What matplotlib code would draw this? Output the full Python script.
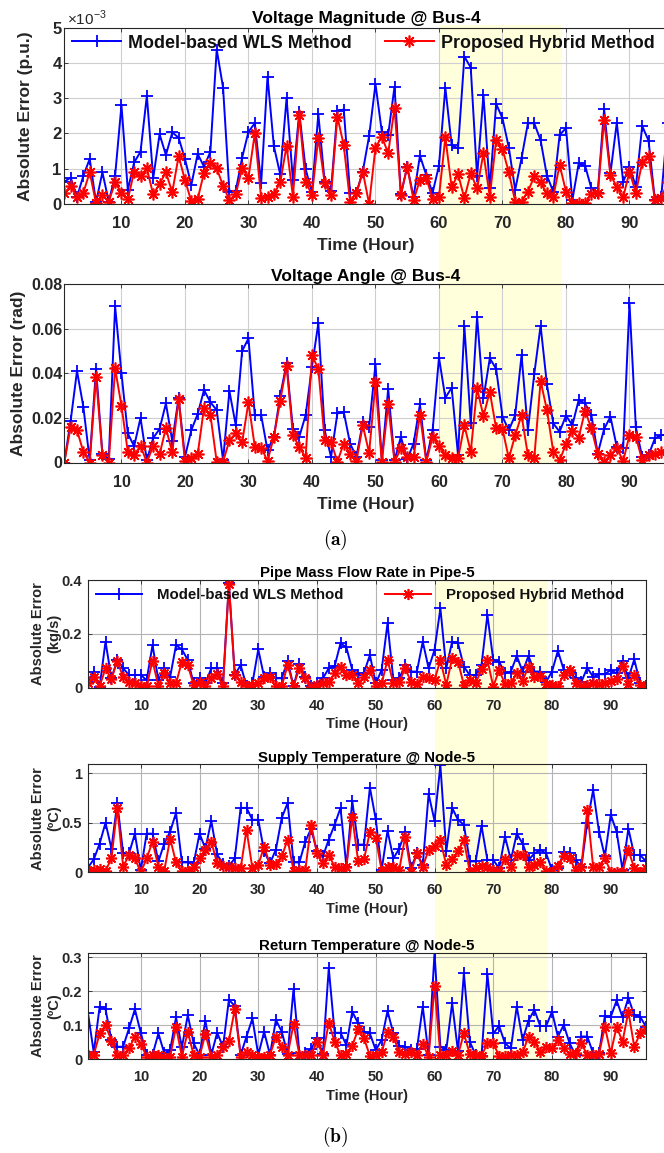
#!/usr/bin/env python3
"""Absolute estimation errors: model-based WLS vs proposed hybrid method.

(a) power network quantities at bus 4, (b) heat network quantities at node/pipe 5.
Hours 60-79 are highlighted in both groups.
"""
import matplotlib
matplotlib.use("Agg")
import matplotlib.pyplot as plt
from matplotlib.patches import Rectangle

HOURS = list(range(1, 97))
XTICKS = [10, 20, 30, 40, 50, 60, 70, 80, 90]
SHADE_HOURS = (60, 79.4)

# (a) voltage magnitude error, units of 1e-3 p.u.
VM_WLS = [0.63, 0.75, 0.20, 0.80, 1.28, 0.05, 0.90, 0.07, 0.80, 2.80,
          0.40, 1.18, 1.48, 3.07, 0.73, 1.98, 1.39, 2.03, 1.88, 1.28,
          0.54, 1.42, 1.06, 1.48, 4.38, 3.30, 0.35, 0.38, 1.31, 2.05,
          2.29, 0.59, 3.61, 1.64, 0.84, 3.00, 0.68, 2.60, 0.99, 0.33,
          2.55, 0.63, 0.38, 2.64, 2.68, 0.32, 0.32, 0.92, 1.93, 3.40,
          2.05, 1.96, 3.33, 0.27, 1.06, 0.20, 1.37, 0.82, 0.32, 1.09,
          3.30, 1.67, 1.58, 4.18, 3.87, 0.78, 3.09, 0.44, 2.84, 2.43,
          1.60, 0.40, 1.30, 2.29, 2.29, 1.81, 0.80, 0.35, 1.96, 2.15,
          0.11, 1.15, 1.09, 0.44, 0.32, 2.69, 0.87, 2.31, 0.63, 1.06,
          0.49, 2.21, 1.80, 0.11, 0.20, 2.29]
VM_HYB = [0.30, 0.52, 0.19, 0.32, 0.90, 0.02, 0.26, 0.07, 0.61, 0.32,
          0.13, 0.92, 0.79, 1.01, 0.27, 0.57, 0.90, 0.33, 1.36, 0.68,
          0.08, 0.14, 0.89, 1.15, 1.01, 0.52, 0.11, 0.28, 1.01, 0.75,
          2.00, 0.16, 0.21, 0.28, 0.61, 1.65, 0.21, 2.52, 0.63, 0.26,
          1.88, 0.60, 0.26, 2.48, 1.67, 0.07, 0.30, 0.92, 0.00, 1.60,
          1.91, 1.44, 2.73, 0.26, 1.06, 0.11, 0.68, 0.75, 0.13, 0.20,
          1.89, 0.47, 0.85, 0.16, 0.87, 0.44, 1.44, 0.21, 1.81, 1.55,
          0.90, 0.07, 0.07, 0.35, 0.78, 0.61, 0.30, 0.21, 1.11, 0.35,
          0.02, 0.02, 0.02, 0.28, 0.30, 2.38, 0.82, 0.49, 0.19, 0.92,
          0.32, 1.18, 1.37, 0.11, 0.16, 0.63]

# (a) voltage angle error, rad
VA_WLS = [0.000, 0.0187, 0.041, 0.025, 0.001, 0.042, 0.004, 0.0015, 0.070, 0.040,
          0.013, 0.0073, 0.020, 0.001, 0.011, 0.015, 0.0265, 0.0096, 0.029, 0.0025,
          0.0145, 0.0217, 0.0325, 0.027, 0.0235, 0.001, 0.032, 0.0167, 0.050, 0.0556,
          0.0212, 0.0212, 0.0055, 0.0115, 0.030, 0.0444, 0.0152, 0.0115, 0.0212, 0.043,
          0.0624, 0.0145, 0.0025, 0.022, 0.0227, 0.0085, 0.0025, 0.018, 0.016, 0.044,
          0.001, 0.033, 0.001, 0.0115, 0.0015, 0.0085, 0.026, 0.001, 0.0145, 0.047,
          0.029, 0.0335, 0.0033, 0.061, 0.0175, 0.0653, 0.0287, 0.0467, 0.042, 0.0205,
          0.0145, 0.0212, 0.048, 0.0145, 0.0396, 0.0613, 0.035, 0.0175, 0.0138, 0.021,
          0.0167, 0.028, 0.0265, 0.0212, 0.004, 0.015, 0.0205, 0.007, 0.0063, 0.0713,
          0.0157, 0.0025, 0.0033, 0.0108, 0.0123, 0.0123]
VA_HYB = [0.000, 0.016, 0.0145, 0.0048, 0.000, 0.0384, 0.0033, 0.000, 0.0422, 0.0254,
          0.0048, 0.0033, 0.0075, 0.000, 0.0075, 0.0036, 0.0155, 0.0045, 0.0283, 0.0006,
          0.002, 0.0036, 0.0245, 0.0215, 0.0003, 0.0003, 0.010, 0.013, 0.009, 0.027,
          0.007, 0.0067, 0.0007, 0.0115, 0.0277, 0.0434, 0.0123, 0.007, 0.0022, 0.048,
          0.042, 0.010, 0.0093, 0.0003, 0.0085, 0.004, 0.0006, 0.0167, 0.0043, 0.0359,
          0.0003, 0.026, 0.0003, 0.0063, 0.0025, 0.0025, 0.0215, 0.0003, 0.0115, 0.0075,
          0.0033, 0.0018, 0.0018, 0.0167, 0.0048, 0.0332, 0.0208, 0.0317, 0.0153, 0.015,
          0.0018, 0.0123, 0.0212, 0.0033, 0.0018, 0.0365, 0.0235, 0.0048, 0.001, 0.0082,
          0.0142, 0.0112, 0.0232, 0.0153, 0.0037, 0.0003, 0.0033, 0.0066, 0.0006, 0.0123,
          0.0115, 0.001, 0.0033, 0.004, 0.0048, 0.0055]

# (b) pipe mass flow rate error, kg/s
MF_WLS = [0.022, 0.060, 0.004, 0.171, 0.035, 0.103, 0.072, 0.047, 0.047, 0.047,
          0.028, 0.158, 0.028, 0.072, 0.040, 0.158, 0.142, 0.103, 0.016, 0.035,
          0.016, 0.072, 0.072, 0.016, 0.388, 0.047, 0.084, 0.006, 0.016, 0.142,
          0.040, 0.053, 0.035, 0.035, 0.100, 0.006, 0.088, 0.040, 0.006, 0.016,
          0.035, 0.072, 0.080, 0.165, 0.150, 0.066, 0.047, 0.056, 0.121, 0.016,
          0.066, 0.239, 0.028, 0.035, 0.084, 0.060, 0.060, 0.171, 0.072, 0.140,
          0.295, 0.072, 0.171, 0.165, 0.078, 0.047, 0.047, 0.084, 0.270, 0.103,
          0.097, 0.053, 0.060, 0.118, 0.060, 0.118, 0.060, 0.060, 0.022, 0.060,
          0.137, 0.066, 0.060, 0.035, 0.022, 0.074, 0.040, 0.050, 0.050, 0.066,
          0.053, 0.100, 0.035, 0.105, 0.016, 0.006]
MF_HYB = [0.016, 0.040, 0.006, 0.072, 0.032, 0.099, 0.040, 0.022, 0.016, 0.007,
          0.006, 0.100, 0.006, 0.053, 0.016, 0.016, 0.097, 0.084, 0.010, 0.022,
          0.006, 0.035, 0.050, 0.006, 0.385, 0.047, 0.022, 0.006, 0.010, 0.016,
          0.035, 0.040, 0.006, 0.006, 0.084, 0.006, 0.072, 0.035, 0.004, 0.010,
          0.016, 0.022, 0.053, 0.078, 0.047, 0.047, 0.016, 0.040, 0.066, 0.006,
          0.016, 0.103, 0.016, 0.022, 0.072, 0.022, 0.014, 0.040, 0.035, 0.028,
          0.103, 0.010, 0.109, 0.097, 0.010, 0.028, 0.016, 0.068, 0.103, 0.004,
          0.066, 0.014, 0.016, 0.053, 0.026, 0.078, 0.038, 0.043, 0.014, 0.010,
          0.006, 0.047, 0.066, 0.019, 0.006, 0.010, 0.016, 0.014, 0.019, 0.026,
          0.031, 0.080, 0.014, 0.047, 0.010, 0.006]

# (b) supply temperature error, degC
TS_WLS = [0.047, 0.13, 0.29, 0.50, 0.24, 0.70, 0.19, 0.19, 0.39, 0.02,
          0.39, 0.39, 0.11, 0.29, 0.41, 0.60, 0.10, 0.10, 0.09, 0.39,
          0.24, 0.52, 0.18, 0.085, 0.064, 0.14, 0.65, 0.65, 0.53, 0.53,
          0.21, 0.09, 0.23, 0.55, 0.70, 0.10, 0.10, 0.31, 0.44, 0.21,
          0.16, 0.33, 0.48, 0.65, 0.057, 0.72, 0.28, 0.28, 0.855, 0.535,
          0.024, 0.42, 0.14, 0.24, 0.41, 0.047, 0.19, 0.074, 0.79, 0.52,
          1.08, 0.21, 0.65, 0.53, 0.48, 0.11, 0.11, 0.47, 0.125, 0.125,
          0.04, 0.36, 0.125, 0.39, 0.29, 0.125, 0.19, 0.226, 0.19, 0.024,
          0.04, 0.20, 0.19, 0.125, 0.057, 0.50, 0.83, 0.41, 0.16, 0.58,
          0.41, 0.024, 0.44, 0.175, 0.175, 0.11]
TS_HYB = [0.017, 0.024, 0.030, 0.013, 0.14, 0.65, 0.057, 0.175, 0.14, 0.0,
          0.14, 0.31, 0.057, 0.017, 0.34, 0.10, 0.013, 0.013, 0.057, 0.14,
          0.23, 0.31, 0.09, 0.064, 0.05, 0.04, 0.04, 0.43, 0.04, 0.074,
          0.26, 0.074, 0.084, 0.16, 0.33, 0.017, 0.024, 0.024, 0.48, 0.19,
          0.09, 0.175, 0.057, 0.04, 0.057, 0.56, 0.11, 0.13, 0.41, 0.35,
          0.017, 0.057, 0.05, 0.024, 0.36, 0.007, 0.19, 0.057, 0.226, 0.266,
          0.326, 0.074, 0.13, 0.21, 0.326, 0.007, 0.04, 0.064, 0.057, 0.024,
          0.013, 0.13, 0.05, 0.175, 0.175, 0.057, 0.074, 0.10, 0.017, 0.007,
          0.064, 0.16, 0.14, 0.024, 0.057, 0.63, 0.057, 0.057, 0.14, 0.007,
          0.0, 0.007, 0.226, 0.04, 0.007, 0.04]

# (b) return temperature error, degC
TR_WLS = [0.137, 0.02, 0.155, 0.147, 0.057, 0.037, 0.037, 0.091, 0.147, 0.078,
          0.013, 0.013, 0.076, 0.018, 0.027, 0.123, 0.035, 0.13, 0.047, 0.013,
          0.114, 0.013, 0.078, 0.037, 0.175, 0.157, 0.013, 0.067, 0.12, 0.013,
          0.081, 0.013, 0.116, 0.081, 0.016, 0.206, 0.018, 0.018, 0.03, 0.062,
          0.016, 0.268, 0.078, 0.078, 0.042, 0.14, 0.106, 0.081, 0.076, 0.027,
          0.057, 0.142, 0.076, 0.039, 0.037, 0.027, 0.03, 0.155, 0.013, 0.312,
          0.037, 0.027, 0.165, 0.023, 0.253, 0.052, 0.013, 0.01, 0.251, 0.076,
          0.098, 0.047, 0.032, 0.155, 0.057, 0.114, 0.145, 0.098, 0.098, 0.14,
          0.067, 0.101, 0.047, 0.013, 0.067, 0.067, 0.018, 0.018, 0.127, 0.125,
          0.173, 0.124, 0.181, 0.13, 0.125, 0.096]
TR_HYB = [0.013, 0.013, 0.076, 0.10, 0.055, 0.013, 0.013, 0.032, 0.067, 0.045,
          0.008, 0.013, 0.013, 0.008, 0.008, 0.096, 0.008, 0.081, 0.013, 0.008,
          0.075, 0.008, 0.013, 0.037, 0.055, 0.147, 0.008, 0.02, 0.013, 0.008,
          0.008, 0.013, 0.067, 0.037, 0.013, 0.104, 0.013, 0.013, 0.013, 0.052,
          0.013, 0.108, 0.052, 0.013, 0.016, 0.04, 0.088, 0.062, 0.01, 0.013,
          0.02, 0.081, 0.067, 0.02, 0.016, 0.02, 0.013, 0.045, 0.008, 0.216,
          0.013, 0.013, 0.023, 0.013, 0.076, 0.016, 0.013, 0.01, 0.047, 0.047,
          0.01, 0.01, 0.013, 0.013, 0.02, 0.067, 0.052, 0.02, 0.037, 0.032,
          0.057, 0.032, 0.016, 0.018, 0.047, 0.013, 0.013, 0.016, 0.096, 0.018,
          0.096, 0.052, 0.14, 0.037, 0.076, 0.088]

W, H = 664, 1153
FONT = "Liberation Sans"
TXT = "#262626"
BLUE = "#0000ff"
RED = "#ff0000"
SHADE_COLOR = "#ffffdc"
STAR = (8, 2, 0)


def add_px_axes(fig, left, top, right, bottom):
    return fig.add_axes([left / W, 1 - bottom / H, (right - left) / W, (bottom - top) / H])


def style_axes(ax, ylim, yticks, yticklabels, tick_fs, grid_color, xpad, ypad):
    ax.set_facecolor("none")
    ax.set_xlim(1, 96)
    ax.set_ylim(*ylim)
    ax.set_xticks(XTICKS)
    ax.set_yticks(yticks)
    ax.set_yticklabels(yticklabels)
    ax.grid(True, color=grid_color, linewidth=0.8)
    ax.set_axisbelow(True)
    ax.tick_params(direction="in", length=3, width=0.6, color=TXT, labelcolor=TXT,
                   labelsize=tick_fs, top=True, right=True)
    ax.tick_params(axis="x", pad=xpad)
    ax.tick_params(axis="y", pad=ypad)
    for lab in ax.get_xticklabels() + ax.get_yticklabels():
        lab.set_fontweight("bold")
        lab.set_fontfamily(FONT)
    for sp in ax.spines.values():
        sp.set_color(TXT)
        sp.set_linewidth(0.8)


def draw_series(ax, wls, hyb, ms):
    ax.plot(HOURS, wls, color=BLUE, lw=1.4, marker="+", ms=ms, mew=1.3, label="Model-based WLS Method")
    ax.plot(HOURS, hyb, color=RED, lw=1.4, marker=STAR, ms=ms - 0.5, mew=1.2, label="Proposed Hybrid Method")


def shade_between(fig, ax_top, ax_bot, top_extra):
    inv = fig.transFigure.inverted()
    x0 = inv.transform(ax_top.transData.transform((SHADE_HOURS[0], 0)))[0]
    x1 = inv.transform(ax_top.transData.transform((SHADE_HOURS[1], 0)))[0]
    y0 = ax_bot.get_position().y0
    y1 = ax_top.get_position().y1 + top_extra / H
    fig.patches.append(Rectangle((x0, y0), x1 - x0, y1 - y0, transform=fig.transFigure,
                                 facecolor=SHADE_COLOR, edgecolor="none", zorder=-1))


def main():
    plt.rcParams["font.family"] = FONT
    plt.rcParams["mathtext.fontset"] = "custom"
    plt.rcParams["mathtext.rm"] = FONT
    fig = plt.figure(figsize=(W / 100, H / 100), dpi=100)

    # ---- (a) power network
    a_fs = 12.5
    ax1 = add_px_axes(fig, 64.3, 27.7, 667.6, 204)
    ax2 = add_px_axes(fig, 64.3, 284, 667.6, 462.5)
    draw_series(ax1, VM_WLS, VM_HYB, 9)
    draw_series(ax2, VA_WLS, VA_HYB, 9)
    style_axes(ax1, (0, 5), [0, 1, 2, 3, 4, 5], ["0", "1", "2", "3", "4", "5"], 12, "#cfcfcf", 9, 2)
    style_axes(ax2, (0, 0.08), [0, 0.02, 0.04, 0.06, 0.08], ["0", "0.02", "0.04", "0.06", "0.08"],
               11.5, "#cfcfcf", 9, 1.5)
    ax1.set_title("Voltage Magnitude @ Bus-4", fontsize=a_fs, fontweight="bold", pad=3.5)
    ax2.set_title("Voltage Angle @ Bus-4", fontsize=a_fs, fontweight="bold", pad=2)
    ax1.text(0.005, 1.0, r"×10$^{-3}$", transform=ax1.transAxes, fontsize=11, color=TXT,
             ha="left", va="bottom")
    for ax, lab, xc in [(ax1, "Absolute Error (p.u.)", -0.052), (ax2, "Absolute Error (rad)", -0.063)]:
        ax.set_ylabel(lab, fontsize=a_fs, fontweight="bold", color=TXT)
        ax.yaxis.set_label_coords(xc, 0.5)
        ax.set_xlabel("Time (Hour)", fontsize=a_fs, fontweight="bold", color=TXT, labelpad=5)
    leg = ax1.legend(loc="center left", bbox_to_anchor=(0.0128, 0.913), ncol=2, frameon=False,
                     prop={"size": 12.9, "weight": "bold"}, handlelength=2.74, handletextpad=0.39,
                     columnspacing=1.84, borderpad=0, borderaxespad=0)
    for t in leg.get_texts():
        t.set_color("#111111")
    shade_between(fig, ax1, ax2, 3)
    fig.text(0.505, 1 - 540 / H, r"$\mathbf{(a)}$", ha="center", va="center", fontsize=14,
             math_fontfamily="cm")

    # ---- (b) heat network
    b_fs = 10.5
    ax3 = add_px_axes(fig, 87.9, 580, 646, 687.7)
    ax4 = add_px_axes(fig, 87.9, 764.3, 646, 872.3)
    ax5 = add_px_axes(fig, 87.9, 952.5, 646, 1059.3)
    draw_series(ax3, MF_WLS, MF_HYB, 8.5)
    draw_series(ax4, TS_WLS, TS_HYB, 8.5)
    draw_series(ax5, TR_WLS, TR_HYB, 8.5)
    style_axes(ax3, (0, 0.4), [0, 0.2, 0.4], ["0", "0.2", "0.4"], 10.5, "#b4b4b4", 8, 4)
    style_axes(ax4, (0, 1.09), [0, 0.5, 1], ["0", "0.5", "1"], 10.5, "#b4b4b4", 8, 4)
    style_axes(ax5, (0, 0.314), [0, 0.1, 0.2, 0.3], ["0", "0.1", "0.2", "0.3"], 10.5, "#b4b4b4", 8, 4)
    ax3.set_title("Pipe Mass Flow Rate in Pipe-5", fontsize=10.8, fontweight="bold", pad=2)
    ax4.set_title("Supply Temperature @ Node-5", fontsize=10.8, fontweight="bold", pad=2)
    ax5.set_title("Return Temperature @ Node-5", fontsize=10.8, fontweight="bold", pad=2)
    for ax, unit in [(ax3, "(kg/s)"), (ax4, "(ºC)"), (ax5, "(ºC)")]:
        ax.set_ylabel(f"Absolute Error\n{unit}", fontsize=b_fs, fontweight="bold", color=TXT)
        ax.yaxis.set_label_coords(-0.047, 0.5)
        ax.set_xlabel("Time (Hour)", fontsize=b_fs, fontweight="bold", color=TXT, labelpad=3)
    leg = ax3.legend(loc="center left", bbox_to_anchor=(0.014, 0.861), ncol=2, frameon=False,
                     prop={"size": 10.85, "weight": "bold"}, handlelength=3.05, handletextpad=1.0,
                     columnspacing=2.75, borderpad=0, borderaxespad=0)
    for t in leg.get_texts():
        t.set_color("#111111")
    shade_between(fig, ax3, ax5, 0)
    fig.text(0.505, 1 - 1137 / H, r"$\mathbf{(b)}$", ha="center", va="center", fontsize=14,
             math_fontfamily="cm")

    fig.savefig("out.png", dpi=100)
    plt.close(fig)


if __name__ == "__main__":
    main()
